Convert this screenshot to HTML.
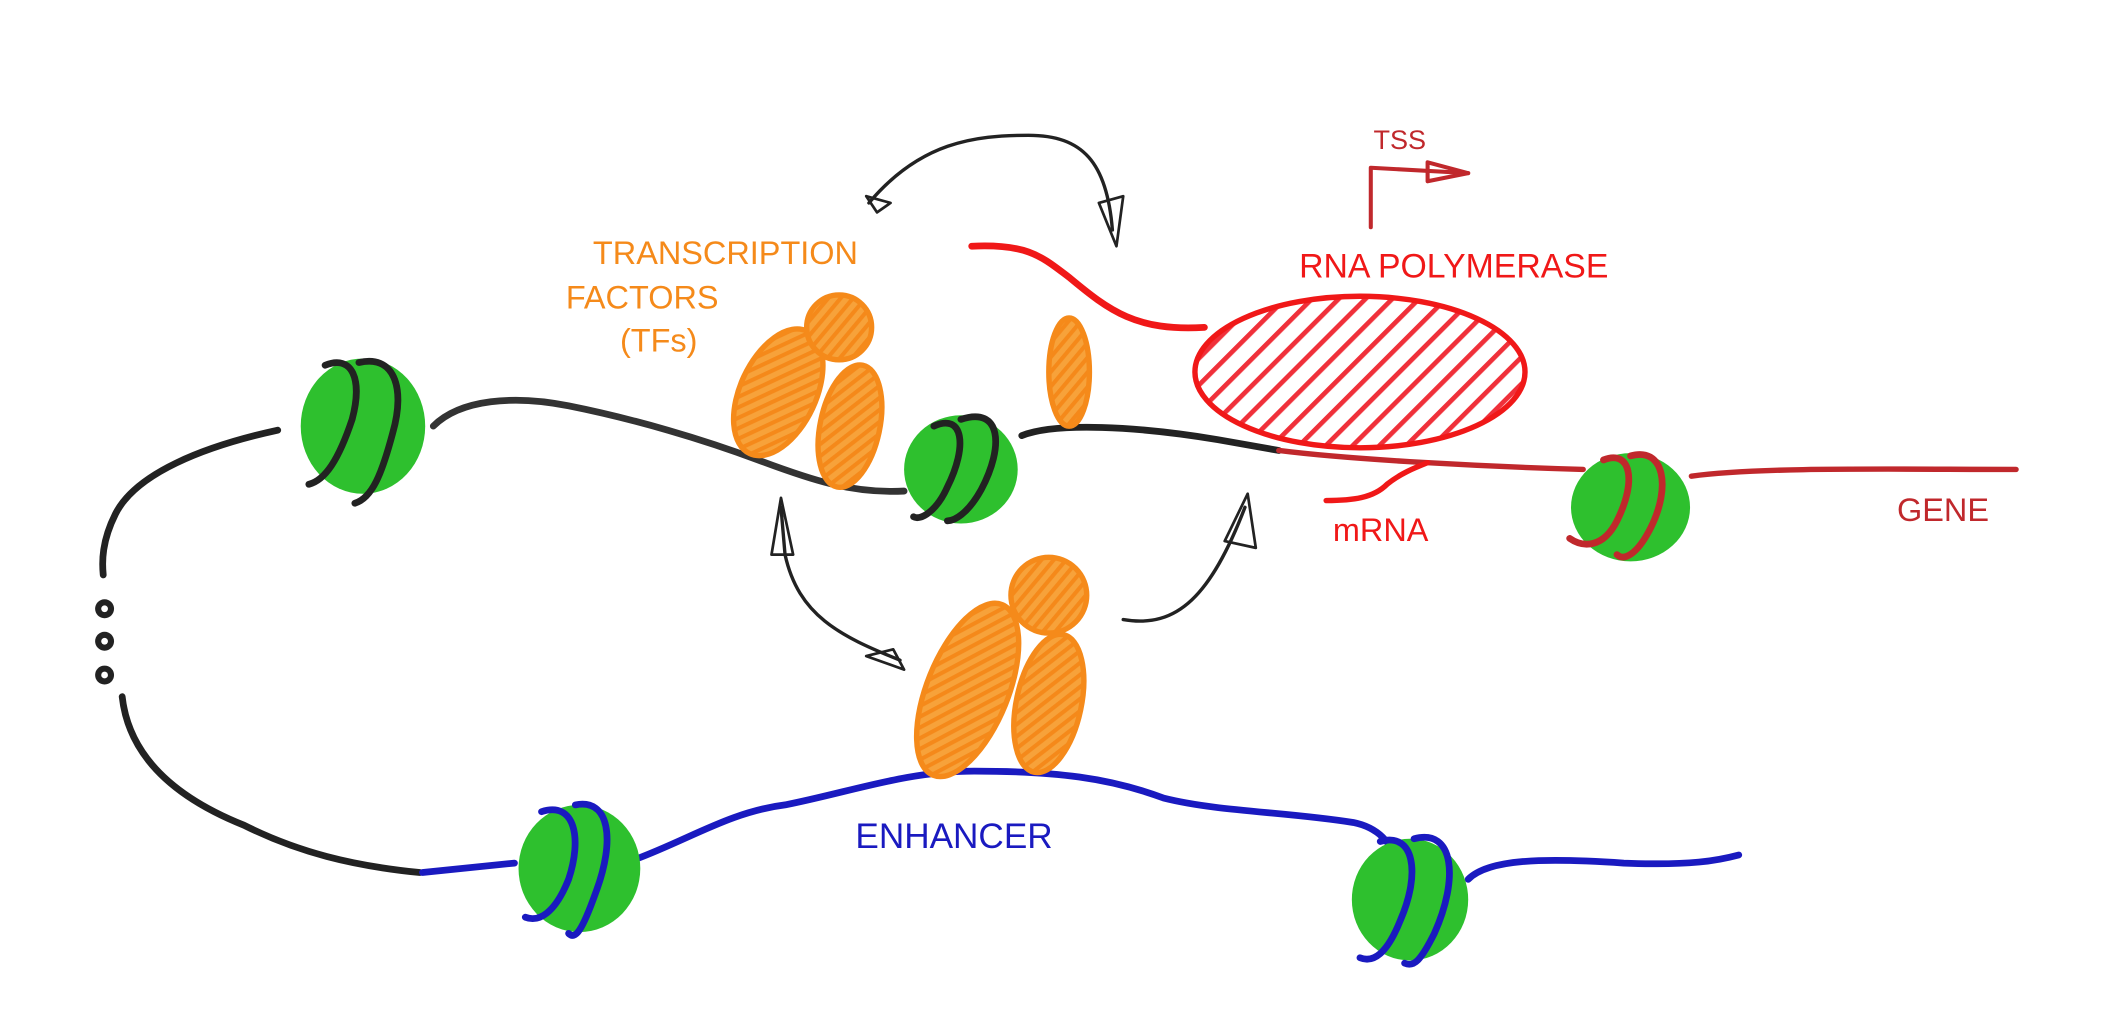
<!DOCTYPE html>
<html><head><meta charset="utf-8"><style>
html,body{margin:0;padding:0;background:#fff;}
svg{display:block;}
text{font-family:"Liberation Sans",sans-serif;}
</style></head><body>
<svg width="2122" height="1020" viewBox="0 0 1568 754" xmlns="http://www.w3.org/2000/svg">
<defs>
<pattern id="hr" patternUnits="userSpaceOnUse" width="14" height="14" patternTransform="rotate(-45)">
<rect width="14" height="14" fill="#fff"/><rect x="0" y="0" width="14" height="3.5" fill="#f0303a"/></pattern>
<pattern id="ho" patternUnits="userSpaceOnUse" width="7" height="7" patternTransform="rotate(-50)">
<rect width="7" height="7" fill="#f7a23a"/><rect width="7" height="3" fill="#f5891a"/></pattern>
</defs>
<g fill="none" stroke-linecap="round" stroke-linejoin="round">
<path d="M205,318 C150,330 100,350 85,380 C75,400 75,415 76,425" stroke="#222" stroke-width="5"/>
<path d="M90,515 C95,560 130,590 180,610 C220,630 260,640 310,645" stroke="#222" stroke-width="5"/>
<path d="M320,315 C340,295 380,292 420,300 C470,310 520,325 560,340 C600,355 630,365 668,363" stroke="#333" stroke-width="5"/>
<path d="M755,322 C780,312 840,315 900,325 L945,333" stroke="#222" stroke-width="5"/>
<path d="M945,333 C1000,340 1100,345 1170,347" stroke="#c0282c" stroke-width="4"/>
<path d="M1250,352 C1300,345 1400,347 1490,347" stroke="#c0282c" stroke-width="4"/>
<path d="M718,182 C760,180 770,190 790,205 C820,230 840,245 890,242" stroke="#f01818" stroke-width="5"/>
<path d="M980,370 C1000,370 1015,368 1025,358 C1035,350 1045,346 1055,342" stroke="#f01818" stroke-width="4"/>
<path d="M1013,168 L1013,124 L1085,128" stroke="#c0282c" stroke-width="3"/>
<path d="M1055,120 L1085,128 L1055,134 Z" stroke="#c0282c" stroke-width="3"/>
<path d="M312,645 L380,638" stroke="#1a1ac0" stroke-width="5"/>
<path d="M470,635 C510,620 540,600 580,595 C630,585 670,570 720,570 C780,570 820,575 860,590 C900,600 950,600 1000,608 C1020,612 1028,625 1030,632" stroke="#1a1ac0" stroke-width="5"/>
<path d="M1085,650 C1100,635 1140,634 1200,638 C1250,640 1270,636 1285,632" stroke="#1a1ac0" stroke-width="5"/>
<path d="M642,150 C680,105 720,100 760,100 C800,100 818,120 822,170" stroke="#222" stroke-width="2.5"/>
<path d="M640,145 L648,157 L658,150 Z M812,150 L825,182 L830,145 Z" stroke="#222" stroke-width="2"/>
<path d="M665,488 C620,470 590,455 580,410 L577,375" stroke="#222" stroke-width="2.5"/>
<path d="M570,410 L577,368 L586,410 Z M660,480 L668,495 L640,485 Z" stroke="#222" stroke-width="2"/>
<path d="M830,458 C870,465 895,440 920,375" stroke="#222" stroke-width="2.5"/>
<path d="M905,400 L922,365 L928,405 Z" stroke="#222" stroke-width="2"/>
</g>
<g fill="#222"><circle cx="77" cy="450" r="7"/><circle cx="77" cy="474" r="7"/><circle cx="77" cy="499" r="7"/></g>
<g fill="#fff"><circle cx="77" cy="450" r="2.5"/><circle cx="77" cy="474" r="2.5"/><circle cx="77" cy="499" r="2.5"/></g>
<ellipse cx="1005" cy="275" rx="122" ry="56" fill="url(#hr)" stroke="#f01818" stroke-width="4"/>
<g fill="#2ec02e">
<ellipse cx="268" cy="315" rx="46" ry="50"/><ellipse cx="710" cy="347" rx="42" ry="40"/>
<ellipse cx="1205" cy="375" rx="44" ry="40"/><ellipse cx="428" cy="642" rx="45" ry="47"/>
<ellipse cx="1042" cy="665" rx="43" ry="45"/></g>
<g fill="none" stroke-width="5" stroke-linecap="round">
<path d="M240,270 C260,262 268,280 260,310 C250,340 240,355 228,358 M265,268 C290,262 300,285 290,320 C282,350 275,368 262,372" stroke="#222"/>
<path d="M690,315 C712,305 715,330 700,360 C692,378 680,385 675,382 M710,310 C740,300 742,330 725,362 C715,380 705,385 700,385" stroke="#222"/>
<path d="M1185,340 C1205,332 1210,355 1195,385 C1185,405 1170,405 1160,398 M1205,337 C1230,330 1235,360 1220,390 C1210,410 1200,415 1195,410" stroke="#c0282c"/>
<path d="M400,600 C425,592 430,620 420,650 C410,675 398,682 388,678 M425,595 C450,590 455,620 440,660 C430,688 425,695 420,690" stroke="#1a1ac0"/>
<path d="M1020,622 C1045,615 1050,645 1035,680 C1025,705 1015,712 1005,708 M1045,620 C1075,612 1078,650 1060,690 C1050,710 1045,715 1038,712" stroke="#1a1ac0"/>
</g>
<g fill="url(#ho)" stroke="#f58a1a" stroke-width="4">
<ellipse cx="575" cy="290" rx="28" ry="50" transform="rotate(25 575 290)"/>
<ellipse cx="628" cy="315" rx="22" ry="46" transform="rotate(12 628 315)"/>
<circle cx="620" cy="242" r="24"/>
<ellipse cx="790" cy="275" rx="15" ry="40"/>
<ellipse cx="715" cy="510" rx="30" ry="68" transform="rotate(22 715 510)"/>
<ellipse cx="775" cy="520" rx="24" ry="52" transform="rotate(12 775 520)"/>
<circle cx="775" cy="440" r="28"/>
</g>
<g font-size="24">
<text x="438" y="195" fill="#f58a1a">TRANSCRIPTION</text>
<text x="418" y="228" fill="#f58a1a">FACTORS</text>
<text x="458" y="260" fill="#f58a1a">(TFs)</text>
<text x="960" y="205" fill="#f01818" font-size="25">RNA POLYMERASE</text>
<text x="985" y="400" fill="#f01818">mRNA</text>
<text x="1402" y="385" fill="#c0282c">GENE</text>
<text x="632" y="627" fill="#1a1ac0" font-size="26">ENHANCER</text>
<text x="1015" y="110" fill="#c0282c" font-size="20">TSS</text>
</g>
</svg>
</body></html>
